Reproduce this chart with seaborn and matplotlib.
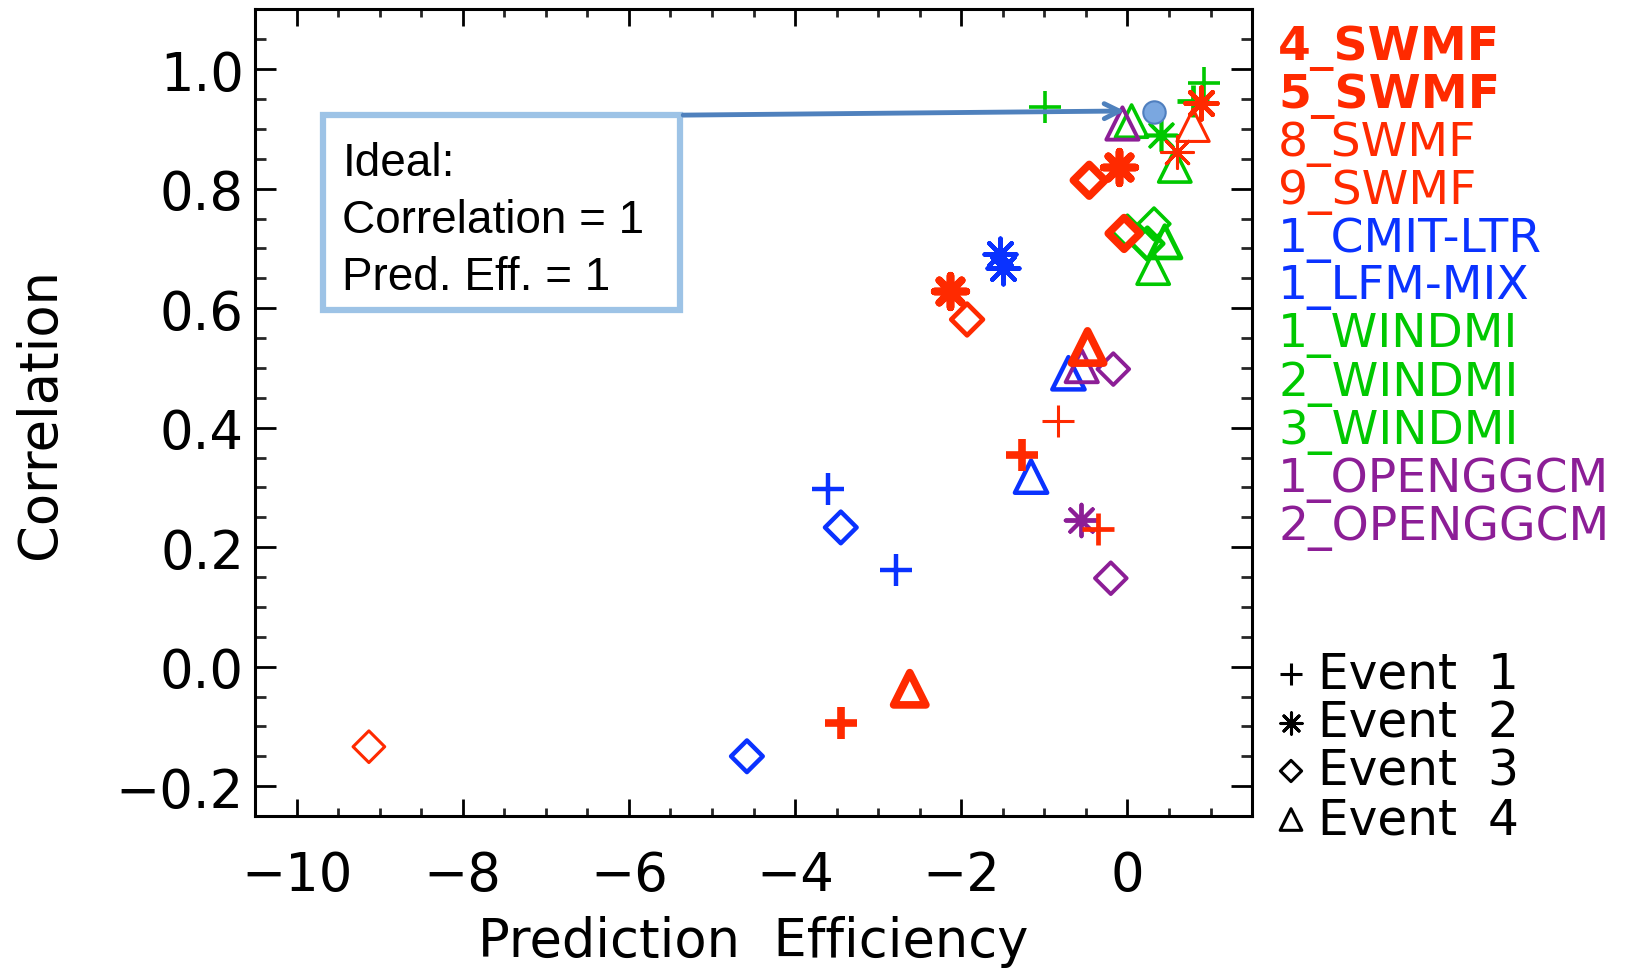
import numpy as np
import pandas as pd
import matplotlib.pyplot as plt
import seaborn as sns
from matplotlib.patches import Rectangle
from matplotlib.ticker import MultipleLocator

# models (legend order), colours, label weight, marker line width
models = ["4_SWMF", "5_SWMF", "8_SWMF", "9_SWMF", "1_CMIT-LTR", "1_LFM-MIX",
          "1_WINDMI", "2_WINDMI", "3_WINDMI", "1_OPENGGCM", "2_OPENGGCM"]
model_colors = ["#ff2a00", "#ff2a00", "#ff2a00", "#ff2a00", "#0a32ff", "#0a32ff",
                "#00c800", "#00c800", "#00c800", "#8c1e96", "#8c1e96"]
model_bold = [True, True, False, False, False, False, False, False, False, False, False]
model_lw = [5.5, 5.5, 2.2, 3.4, 3.2, 3.2, 2.6, 2.6, 3.4, 2.8, 2.8]

events = [1, 2, 3, 4]
event_names = ["Event  1", "Event  2", "Event  3", "Event  4"]

# prediction efficiency / correlation per model run
pe = [-3.45, -1.27, -0.83, -0.36,
      -2.14, -0.10, 0.60, 0.88,
      -9.13, -1.93, -0.46, -0.04,
      -2.62, -0.48, 0.79,
      -3.60, -2.79, -1.53, -1.50, -3.45, -4.58, -1.16, -0.71,
      -0.99, 0.79, 0.92, 0.41, 0.00, 0.32, 0.24, 0.05, 0.57, 0.45, 0.31,
      -0.56, -0.17, -0.20, -0.55, -0.06]
corr = [-0.094, 0.355, 0.411, 0.231,
        0.628, 0.837, 0.861, 0.944,
        -0.134, 0.581, 0.814, 0.725,
        -0.037, 0.535, 0.906,
        0.298, 0.162, 0.690, 0.668, 0.233, -0.150, 0.318, 0.491,
        0.936, 0.946, 0.976, 0.890, 0.729, 0.741, 0.708, 0.913, 0.838, 0.711, 0.667,
        0.245, 0.498, 0.148, 0.503, 0.909]
point_model = ["4_SWMF", "5_SWMF", "8_SWMF", "9_SWMF",
               "4_SWMF", "5_SWMF", "8_SWMF", "9_SWMF",
               "8_SWMF", "9_SWMF", "5_SWMF", "4_SWMF",
               "4_SWMF", "5_SWMF", "8_SWMF",
               "1_CMIT-LTR", "1_LFM-MIX", "1_CMIT-LTR", "1_LFM-MIX",
               "1_CMIT-LTR", "1_LFM-MIX", "1_CMIT-LTR", "1_LFM-MIX",
               "1_WINDMI", "3_WINDMI", "2_WINDMI", "1_WINDMI", "1_WINDMI", "2_WINDMI",
               "3_WINDMI", "1_WINDMI", "2_WINDMI", "3_WINDMI", "2_WINDMI",
               "1_OPENGGCM", "1_OPENGGCM", "2_OPENGGCM", "1_OPENGGCM", "2_OPENGGCM"]
point_event = [1, 1, 1, 1,
               2, 2, 2, 2,
               3, 3, 3, 3,
               4, 4, 4,
               1, 1, 2, 2, 3, 3, 4, 4,
               1, 1, 1, 2, 3, 3, 3, 4, 4, 4, 4,
               2, 3, 3, 4, 4]

# the "ideal" marker the arrow points to
ideal_pe = [0.32]
ideal_corr = [0.928]

df = pd.DataFrame({"pe": pe, "corr": corr, "model": point_model, "event": point_event})

event_marker = {1: "+", 2: (8, 2, 0), 3: "D", 4: "^"}
event_size = {1: 560, 2: 520, 3: 260, 4: 540}
event_hollow = {1: False, 2: False, 3: True, 4: True}
color_of = dict(zip(models, model_colors))
lw_of = dict(zip(models, model_lw))

sns.set_theme(style="white")
plt.rcParams["font.family"] = ["DejaVu Sans"]
plt.rcParams["text.color"] = "black"
plt.rcParams["axes.labelcolor"] = "black"

fig = plt.figure(figsize=(16.52, 9.70), dpi=100)
ax = fig.add_axes([0.1544, 0.1577, 0.6035, 0.8316])

for (m, ev), g in df.groupby(["model", "event"]):
    kw = dict(marker=event_marker[ev], s=event_size[ev], linewidth=lw_of[m], zorder=3)
    if event_hollow[ev]:
        kw.update(facecolor="none", edgecolor=color_of[m])
    sns.scatterplot(data=g, x="pe", y="corr", color=color_of[m], ax=ax, legend=False, **kw)

# ideal point
sns.scatterplot(x=ideal_pe, y=ideal_corr, ax=ax, s=260, color="#7aa7e0",
                edgecolor="#4f7fbf", linewidth=1.5, zorder=5, legend=False)

ax.set_xlim(-10.5, 1.5)
ax.set_ylim(-0.25, 1.10)
ax.xaxis.set_minor_locator(MultipleLocator(0.5))
ax.yaxis.set_minor_locator(MultipleLocator(0.05))
ax.set_xticks([-10, -8, -6, -4, -2, 0])
ax.set_xticklabels(["\u221210", "\u22128", "\u22126", "\u22124", "\u22122", "0"])
ax.set_yticks([-0.2, 0.0, 0.2, 0.4, 0.6, 0.8, 1.0])
ax.set_yticklabels(["\u22120.2", "0.0", "0.2", "0.4", "0.6", "0.8", "1.0"])

ax.tick_params(axis="x", which="major", direction="in", length=12, width=2,
               top=True, bottom=True, labelsize=38, pad=24, colors="black")
ax.tick_params(axis="x", which="minor", direction="in", length=6, width=2,
               top=True, bottom=True)
ax.tick_params(axis="y", which="major", direction="in", length=15, width=2,
               left=True, right=True, labelsize=38, pad=8, colors="black")
ax.tick_params(axis="y", which="minor", direction="in", length=8, width=2,
               left=True, right=True)
for sp in ax.spines.values():
    sp.set_linewidth(2.2)
    sp.set_color("black")

ax.set_xlabel("Prediction  Efficiency", fontsize=38, labelpad=10)
ax.set_ylabel("Correlation", fontsize=38, labelpad=36)

# annotation box and arrow
ax.add_patch(Rectangle((-9.68, 0.597), 4.30, 0.326, facecolor="white",
                       edgecolor="#9dc3e6", linewidth=4.5, zorder=4))
ax.text(-9.45, 0.748, "Ideal:\nCorrelation = 1\nPred. Eff. = 1",
        fontsize=33, family="Liberation Sans", color="black", va="center", ha="left",
        linespacing=1.38, zorder=6)
ax.annotate("", xy=(0.0, 0.930), xytext=(-5.38, 0.923),
            arrowprops=dict(arrowstyle="->,head_length=0.9,head_width=0.45",
                            color="#4f81bd", lw=3.5), zorder=6)

# model labels on the right
x_lab = 1278 / 1652
for i, (name, c, b) in enumerate(zip(models, model_colors, model_bold)):
    y = 1 - (48 + i * 48.0) / 970
    fig.text(x_lab, y, name, color=c, fontsize=34,
             fontweight="bold" if b else "normal", va="center", ha="left")

# event key
for i, (ev, name) in enumerate(zip(events, event_names)):
    y = 1 - (675 + i * 48.5) / 970
    kw = dict(marker=event_marker[ev], s=event_size[ev] * 0.45, linewidth=2.2,
              transform=fig.transFigure, clip_on=False, zorder=6)
    if event_hollow[ev]:
        ax.scatter([1291 / 1652], [y], facecolor="none", edgecolor="black", **kw)
    else:
        ax.scatter([1291 / 1652], [y], color="black", **kw)
    fig.text(1318 / 1652, y, name, color="black", fontsize=35, va="center", ha="left")

fig.savefig("out.png", dpi=100)
